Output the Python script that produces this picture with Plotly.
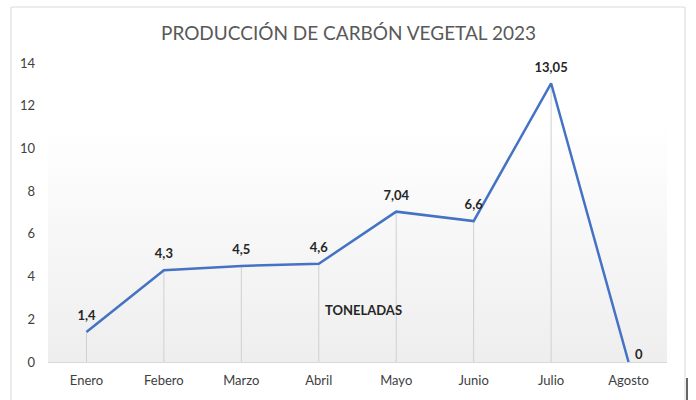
import plotly.graph_objects as go
import base64

months = ["Enero", "Febero", "Marzo", "Abril", "Mayo", "Junio", "Julio", "Agosto"]
toneladas = [1.4, 4.3, 4.5, 4.6, 7.04, 6.6, 13.05, 0]
labels = ["1,4", "4,3", "4,5", "4,6", "7,04", "6,6", "13,05", "0"]
y_ticks = [0, 2, 4, 6, 8, 10, 12, 14]

L, R, T, B = 48, 29, 63, 38
W, H = 696, 400
FONT = "Lato"
LABEL_FONT = dict(family=FONT, size=13, color="#262626", weight="bold")

fig = go.Figure()
fig.add_trace(go.Scatter(
    x=months, y=toneladas, mode="lines+markers+text",
    text=labels[:-1] + [""], textposition="top center",
    textfont=LABEL_FONT,
    line=dict(color="#4472C4", width=2.5),
    marker=dict(size=12, color="rgba(0,0,0,0)"),
    error_y=dict(type="data", symmetric=False, array=[0] * len(toneladas),
                 arrayminus=toneladas, color="#d0d0d0", thickness=1, width=0),
    cliponaxis=False, showlegend=False, hoverinfo="x+y",
))

svg = ('<svg xmlns="http://www.w3.org/2000/svg" width="10" height="100" preserveAspectRatio="none">'
       '<defs><linearGradient id="g" x1="0" y1="0" x2="0" y2="1">'
       '<stop offset="0" stop-color="#ffffff"/><stop offset="0.2" stop-color="#ffffff"/>'
       '<stop offset="1" stop-color="#eeeeee"/></linearGradient></defs>'
       '<rect width="10" height="100" fill="url(#g)"/></svg>')
uri = "data:image/svg+xml;base64," + base64.b64encode(svg.encode()).decode()

pw = W - L - R
ph = H - T - B

fig.update_layout(
    width=W, height=H,
    margin=dict(l=L, r=R, t=T, b=B),
    paper_bgcolor="white", plot_bgcolor="rgba(0,0,0,0)",
    title=dict(text="PRODUCCIÓN DE CARBÓN VEGETAL 2023", x=348.5 / W, xanchor="center",
               y=1 - 33 / H, yanchor="middle",
               font=dict(family=FONT, size=19, color="#595959")),
    xaxis=dict(showgrid=False, showline=True, linecolor="#d9d9d9", linewidth=1,
               ticks="", tickfont=dict(family=FONT, size=13, color="#404040"),
               ticklabelstandoff=6, automargin=False),
    yaxis=dict(range=[0, 14], tickvals=y_ticks, showgrid=False, zeroline=False,
               showline=False, ticks="",
               tickfont=dict(family=FONT, size=13, color="#404040"),
               ticklabelstandoff=12, automargin=False),
    images=[dict(source=uri, xref="paper", yref="paper", x=0, y=1, sizex=1, sizey=1,
                 xanchor="left", yanchor="top", sizing="stretch", layer="below")],
    shapes=[
        dict(type="rect", xref="paper", yref="paper",
             x0=(11 - L) / pw, x1=(685 - L) / pw,
             y0=-0.3, y1=(H - B - 7) / ph,
             line=dict(color="#d9d9d9", width=1)),
        dict(type="line", xref="paper", yref="paper",
             x0=(687 - L) / pw, x1=(687 - L) / pw,
             y0=(H - B - 378) / ph, y1=(H - B - 400) / ph,
             line=dict(color="#333333", width=1.5)),
    ],
    annotations=[
        dict(text="<b>TONELADAS</b>", xref="paper", yref="y",
             x=(363 - L) / pw, y=2.45, showarrow=False,
             font=dict(family=FONT, size=13, color="#262626")),
        dict(text=labels[-1], x=months[-1], y=toneladas[-1], xref="x", yref="y",
             showarrow=False, xanchor="left", yanchor="middle", xshift=4, yshift=8,
             font=LABEL_FONT),
    ],
)

fig.write_html("out.html", config={"displayModeBar": False},
               post_script="document.body.style.margin='0';")
